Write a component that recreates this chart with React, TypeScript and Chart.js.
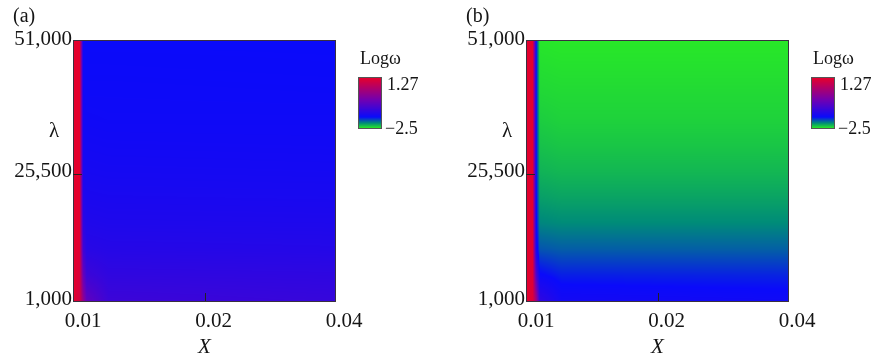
import React, { useEffect, useRef } from 'react';
import { Chart, registerables } from 'chart.js';

Chart.register(...registerables);

// ---- data ----
const xNodes = [0.01, 0.0103, 0.0105, 0.0107, 0.012, 0.04];
const lambdaNodes = [1000, 6000, 11000, 16000, 21000, 26000, 31000, 36000, 41000, 46000, 51000];

// log(omega) at (lambda row, x column), panel (a)
const logOmegaA = [
  [1.27, 1.0, 0.1, -0.6, -1.05, -1.12],
  [1.27, 1.1, -0.5, -1.05, -1.2, -1.22],
  [1.27, 1.2, -1.0, -1.3, -1.33, -1.35],
  [1.27, 1.25, -1.25, -1.4, -1.42, -1.43],
  [1.27, 1.27, -1.4, -1.47, -1.48, -1.49],
  [1.27, 1.27, -1.48, -1.52, -1.53, -1.54],
  [1.27, 1.27, -1.53, -1.56, -1.57, -1.58],
  [1.27, 1.27, -1.57, -1.6, -1.61, -1.61],
  [1.27, 1.27, -1.6, -1.63, -1.63, -1.64],
  [1.27, 1.27, -1.62, -1.65, -1.65, -1.66],
  [1.27, 1.27, -1.64, -1.67, -1.67, -1.67],
];

// panel (b)
const logOmegaB = [
  [1.27, 1.15, 0.3, -1.2, -1.55, -1.6],
  [1.27, 1.2, -0.8, -1.65, -1.74, -1.76],
  [1.27, 1.25, -1.5, -1.93, -1.96, -1.97],
  [1.27, 1.27, -1.62, -2.1, -2.12, -2.12],
  [1.27, 1.27, -1.65, -2.2, -2.22, -2.22],
  [1.27, 1.27, -1.67, -2.28, -2.3, -2.3],
  [1.27, 1.27, -1.67, -2.34, -2.36, -2.36],
  [1.27, 1.27, -1.67, -2.39, -2.41, -2.41],
  [1.27, 1.27, -1.67, -2.43, -2.44, -2.44],
  [1.27, 1.27, -1.67, -2.46, -2.47, -2.47],
  [1.27, 1.27, -1.67, -2.49, -2.5, -2.5],
];

const xTicks = [0.01, 0.02, 0.04];
const yTicks = [1000, 25500, 51000];
const xTickLabels = ['0.01', '0.02', '0.04'];
const colorbarTitle = 'Logω';
const colorMax = 1.27;
const colorMin = -2.5;
const colorbarLabels = ['1.27', '−2.5'];
const panelTags = ['(a)', '(b)'];

const cmapStops = [0, 0.1, 0.22, 0.55, 1];
const cmapColors = [
  [40, 232, 40],
  [0, 140, 120],
  [10, 10, 250],
  [110, 0, 180],
  [228, 0, 45],
];

const SERIF = '"Liberation Serif", "Times New Roman", serif';
const TEXT = '#151515';

function clamp(v: number, a: number, b: number) {
  return Math.max(a, Math.min(b, v));
}

function colorFor(v: number): number[] {
  const t = clamp((v - colorMin) / (colorMax - colorMin), 0, 1);
  let k = 0;
  while (k < cmapStops.length - 2 && t > cmapStops[k + 1]) k++;
  const f = clamp((t - cmapStops[k]) / (cmapStops[k + 1] - cmapStops[k]), 0, 1);
  const c0 = cmapColors[k];
  const c1 = cmapColors[k + 1];
  return [0, 1, 2].map((i) => Math.round(c0[i] + (c1[i] - c0[i]) * f));
}

function sampleGrid(values: number[][], x: number, y: number) {
  let i = 0;
  while (i < xNodes.length - 2 && x > xNodes[i + 1]) i++;
  const fx = clamp(
    (Math.log(x) - Math.log(xNodes[i])) / (Math.log(xNodes[i + 1]) - Math.log(xNodes[i])),
    0,
    1
  );
  let j = 0;
  while (j < lambdaNodes.length - 2 && y > lambdaNodes[j + 1]) j++;
  const fy = clamp((y - lambdaNodes[j]) / (lambdaNodes[j + 1] - lambdaNodes[j]), 0, 1);
  const v00 = values[j][i];
  const v10 = values[j][i + 1];
  const v01 = values[j + 1][i];
  const v11 = values[j + 1][i + 1];
  return v00 * (1 - fx) * (1 - fy) + v10 * fx * (1 - fy) + v01 * (1 - fx) * fy + v11 * fx * fy;
}

function makePanelPlugin(values: number[][], tag: string) {
  return {
    id: 'panelPlugin',
    beforeDatasetsDraw(chart: any) {
      const { ctx, chartArea: a, scales } = chart;
      const xs = scales.x;
      const ys = scales.y;
      const w = Math.round(a.right - a.left);
      const h = Math.round(a.bottom - a.top);
      const off = document.createElement('canvas');
      off.width = w;
      off.height = h;
      const octx = off.getContext('2d')!;
      const img = octx.createImageData(w, h);
      const xv: number[] = [];
      for (let px = 0; px < w; px++) xv.push(xs.getValueForPixel(a.left + px + 0.5));
      for (let py = 0; py < h; py++) {
        const yv = ys.getValueForPixel(a.top + py + 0.5);
        for (let px = 0; px < w; px++) {
          const c = colorFor(sampleGrid(values, xv[px], yv));
          const o = (py * w + px) * 4;
          img.data[o] = c[0];
          img.data[o + 1] = c[1];
          img.data[o + 2] = c[2];
          img.data[o + 3] = 255;
        }
      }
      octx.putImageData(img, 0, 0);
      ctx.drawImage(off, a.left, a.top);
    },
    afterDatasetsDraw(chart: any) {
      const { ctx, chartArea: a, scales } = chart;
      const xs = scales.x;
      const ys = scales.y;
      ctx.save();
      // frame
      ctx.strokeStyle = '#3a3040';
      ctx.lineWidth = 1;
      ctx.strokeRect(a.left - 0.5, a.top - 0.5, a.right - a.left + 1, a.bottom - a.top + 1);
      // inward tick marks
      ctx.strokeStyle = '#222';
      ctx.beginPath();
      xTicks.forEach((v) => {
        const p = Math.round(xs.getPixelForValue(v)) + 0.5;
        if (p > a.left + 2 && p < a.right - 2) {
          ctx.moveTo(p, a.bottom);
          ctx.lineTo(p, a.bottom - 8);
        }
      });
      yTicks.forEach((v) => {
        const p = Math.round(ys.getPixelForValue(v)) + 0.5;
        if (p > a.top + 2 && p < a.bottom - 2) {
          ctx.moveTo(a.left - 1, p);
          ctx.lineTo(a.left + 8, p);
        }
      });
      ctx.stroke();

      // texts
      ctx.fillStyle = TEXT;
      ctx.font = `20px ${SERIF}`;
      ctx.textAlign = 'left';
      ctx.textBaseline = 'middle';
      ctx.fillText(tag, 13, 17);
      ctx.textAlign = 'center';
      ctx.font = `21px ${SERIF}`;
      ctx.fillText('λ', 54, 131);
      ctx.font = `italic 21px ${SERIF}`;
      ctx.fillText('X', (a.left + a.right) / 2, 347);

      // colorbar
      const cbL = 359;
      const cbW = 22;
      const cbT = 78;
      const cbH = 50;
      for (let k = 0; k < cbH; k++) {
        const v = colorMax - ((k + 0.5) / cbH) * (colorMax - colorMin);
        const c = colorFor(v);
        ctx.fillStyle = `rgb(${c[0]},${c[1]},${c[2]})`;
        ctx.fillRect(cbL, cbT + k, cbW, 1);
      }
      ctx.strokeStyle = '#555';
      ctx.strokeRect(cbL - 0.5, cbT - 0.5, cbW + 1, cbH + 1);
      ctx.fillStyle = TEXT;
      ctx.font = `18px ${SERIF}`;
      ctx.textAlign = 'left';
      ctx.fillText(colorbarTitle, 360, 59);
      ctx.fillText(colorbarLabels[0], 387, 85);
      ctx.fillText(colorbarLabels[1], 385, 129);
      ctx.restore();
    },
  };
}

function Panel({ values, tag, left, width }: { values: number[][]; tag: string; left: number; width: number }) {
  const ref = useRef<HTMLCanvasElement>(null);
  useEffect(() => {
    if (!ref.current) return;
    const font = { family: SERIF, size: 21 };
    const chart = new Chart(ref.current, {
      type: 'scatter',
      data: { datasets: [] },
      options: {
        animation: false,
        responsive: false,
        maintainAspectRatio: false,
        layout: { padding: { left: 0, top: 41, right: width - 335, bottom: 0 } },
        plugins: {
          legend: { display: false },
          tooltip: { enabled: false },
          title: { display: false },
        },
        scales: {
          x: {
            type: 'logarithmic',
            min: 0.01,
            max: 0.04,
            afterBuildTicks: (s: any) => {
              s.ticks = xTicks.map((v) => ({ value: v }));
            },
            afterFit: (s: any) => {
              s.height = 58;
            },
            ticks: {
              autoSkip: false,
              maxRotation: 0,
              padding: 8,
              labelOffset: 9,
              color: TEXT,
              font,
              callback: (v: any) => {
                const idx = xTicks.findIndex((t) => Math.abs(t - Number(v)) < 1e-9);
                return idx >= 0 ? xTickLabels[idx] : '';
              },
            },
            grid: { display: false, drawTicks: false },
            border: { display: false },
          },
          y: {
            type: 'linear',
            min: 1000,
            max: 51000,
            afterBuildTicks: (s: any) => {
              s.ticks = yTicks.map((v) => ({ value: v }));
            },
            afterFit: (s: any) => {
              s.width = 74;
            },
            ticks: {
              autoSkip: false,
              padding: 2,
              labelOffset: -2,
              color: TEXT,
              font,
              callback: (v: any) => Number(v).toLocaleString('en-US'),
            },
            grid: { display: false, drawTicks: false },
            border: { display: false },
          },
        },
      } as any,
      plugins: [makePanelPlugin(values, tag)],
    });
    return () => chart.destroy();
  }, [values, tag, width]);
  return (
    <canvas
      ref={ref}
      width={width}
      height={359}
      style={{ position: 'absolute', left, top: 0, width, height: 359 }}
    />
  );
}

export default function App() {
  return (
    <div style={{ position: 'fixed', left: 0, top: 0, width: 882, height: 359, background: '#fff' }}>
      <Panel values={logOmegaA} tag={panelTags[0]} left={0} width={453} />
      <Panel values={logOmegaB} tag={panelTags[1]} left={453} width={429} />
    </div>
  );
}
